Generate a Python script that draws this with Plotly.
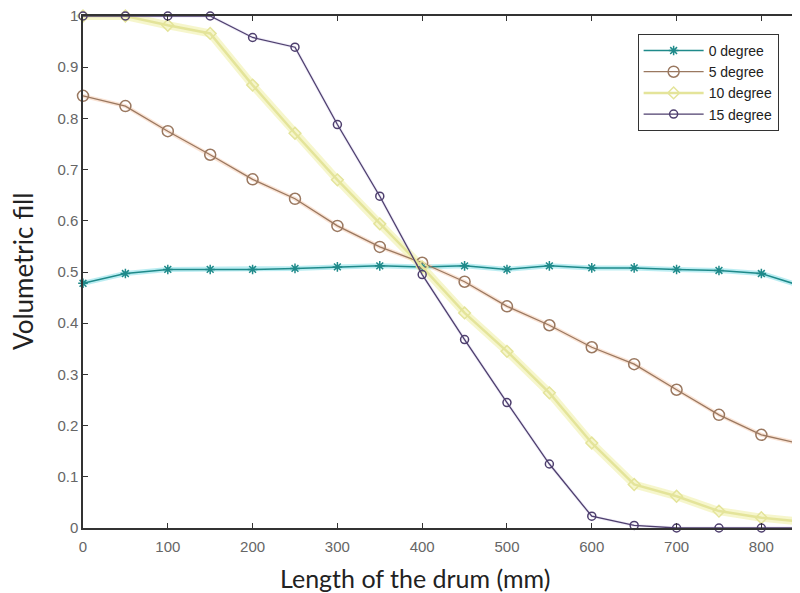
import plotly.graph_objects as go

x_mm = [0, 50, 100, 150, 200, 250, 300, 350, 400, 450, 500, 550, 600, 650, 700, 750, 800, 850]
deg0 = [0.478, 0.497, 0.505, 0.505, 0.505, 0.507, 0.510, 0.512, 0.510, 0.512, 0.505, 0.512, 0.508, 0.508, 0.505, 0.503, 0.497, 0.471]
deg5 = [0.844, 0.824, 0.775, 0.729, 0.681, 0.643, 0.590, 0.549, 0.518, 0.481, 0.433, 0.396, 0.353, 0.320, 0.270, 0.221, 0.182, 0.163]
deg10 = [1.0, 1.0, 0.982, 0.966, 0.865, 0.771, 0.680, 0.594, 0.510, 0.420, 0.345, 0.264, 0.166, 0.085, 0.062, 0.033, 0.020, 0.012]
deg15 = [1.0, 1.0, 1.0, 1.0, 0.958, 0.939, 0.788, 0.648, 0.495, 0.368, 0.245, 0.125, 0.023, 0.005, 0.0, 0.0, 0.0, 0.0]

names = ["0 degree", "5 degree", "10 degree", "15 degree"]
series = [deg0, deg5, deg10, deg15]

halo = ["rgba(120,220,230,0.5)", "rgba(245,200,170,0.5)", "rgba(240,240,170,0.6)", "rgba(200,190,230,0.3)"]
line_col = ["#1f8a8a", "#9a7860", "#e4e49a", "#4e3f6e"]
line_w = [1.5, 1.3, 2.5, 1.3]
mk_sym = ["asterisk-open", "circle-open", "diamond-open", "circle-open"]
mk_size = [8, 11, 9, 8]
mk_col = ["#1d5a5a", "#d8a477", "#e8e89e", "#5a4a80"]
halo_w = [5, 4, 8, 3]

fig = go.Figure()
for i in range(4):
    fig.add_trace(go.Scatter(x=x_mm, y=series[i], mode="lines", showlegend=False,
                             line=dict(color=halo[i], width=halo_w[i]), hoverinfo="skip",
                             cliponaxis=False))
for i in range(4):
    fig.add_trace(go.Scatter(x=x_mm, y=series[i], mode="lines+markers", name=names[i],
                             line=dict(color=line_col[i], width=line_w[i]),
                             marker=dict(symbol=mk_sym[i], size=mk_size[i],
                                         line=dict(color=mk_col[i], width=1.5)),
                             cliponaxis=False))

tick_font = dict(family="Liberation Sans, Arial, sans-serif", size=15, color="#666666")
title_font = "Lato, Open Sans, sans-serif"
fig.update_layout(
    width=800, height=593,
    margin=dict(l=75, r=0, t=8, b=73, autoexpand=False),
    paper_bgcolor="white", plot_bgcolor="white",
    showlegend=True,
    legend=dict(x=0.765, y=0.965, xanchor="left", yanchor="top",
                bgcolor="white", bordercolor="#333333", borderwidth=1,
                font=dict(family="Liberation Sans, Arial, sans-serif", size=14, color="#222222"),
                tracegroupgap=0, itemwidth=60),
    xaxis=dict(range=[0, 855], tickvals=[0, 100, 200, 300, 400, 500, 600, 700, 800],
               ticks="inside", ticklen=5, tickcolor="#333333", showgrid=False, zeroline=False,
               showline=True, linecolor="#333333", linewidth=1.5, mirror="ticks",
               tickfont=tick_font, automargin=False, ticklabelstandoff=4,
               ticklabeloverflow="allow"),
    yaxis=dict(range=[0, 1], tickvals=[0, 0.1, 0.2, 0.3, 0.4, 0.5, 0.6, 0.7, 0.8, 0.9, 1.0],
               ticktext=["0", "0.1", "0.2", "0.3", "0.4", "0.5", "0.6", "0.7", "0.8", "0.9", "1"],
               ticks="inside", ticklen=5, tickcolor="#333333", showgrid=False, zeroline=False,
               showline=True, linecolor="#333333", linewidth=1.5, mirror="ticks",
               tickfont=tick_font, automargin=False, ticklabeloverflow="allow"),
    annotations=[
        dict(text="Length of the drum (mm)", xref="paper", yref="paper",
             x=0.458, y=0, xanchor="center", yanchor="middle", yshift=-50, showarrow=False,
             font=dict(family=title_font, size=25, color="#222222")),
        dict(text="Volumetric fill", xref="paper", yref="paper", textangle=-90,
             x=0, y=0.5, xanchor="center", yanchor="middle", xshift=-60, showarrow=False,
             font=dict(family=title_font, size=26, color="#222222")),
    ],
)

fig.write_html("out.html")
